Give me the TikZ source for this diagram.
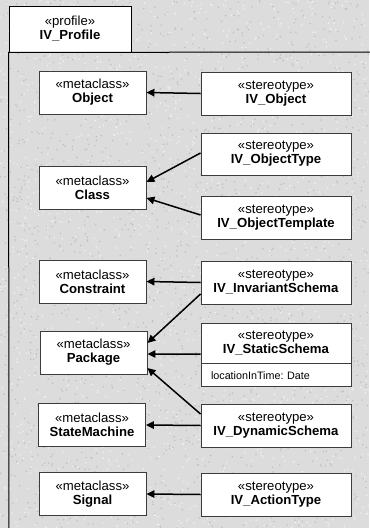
\documentclass[tikz,border=0pt]{standalone}
\usepackage{fontspec}
\setmainfont{Liberation Sans}
\frenchspacing
\usetikzlibrary{arrows.meta,calc}
\definecolor{granite}{HTML}{DCDCDC}
\definecolor{speckdark}{HTML}{BDBDBD}
\definecolor{specklight}{HTML}{F0F0F0}
\definecolor{boxline}{HTML}{3C3C3C}
\tikzset{
  meta/.style={draw=boxline, fill=white, line width=0.9bp, minimum width=107bp,
    minimum height=43bp, inner sep=0pt, align=center,
    font=\fontsize{13.2}{14}\selectfont},
  stereo/.style={meta, minimum width=150bp},
  attr/.style={draw=boxline, fill=white, line width=0.9bp, minimum height=23bp,
    inner xsep=10bp, inner ysep=0pt, text width=130bp, align=left,
    font=\fontsize{10.8}{12}\selectfont},
  ext/.style={draw=black, line width=1.5bp, -{Triangle[length=8bp,width=7.5bp]}},
  frameline/.style={draw=black, line width=1bp},
}
\begin{document}
\begin{tikzpicture}[x=1bp, y=-1bp]
  \useasboundingbox (0,0) rectangle (369,528);
  % granite backdrop
  \fill[granite] (0,0) rectangle (369,528);
  \pgfmathsetseed{4242}
  \foreach \i in {1,...,1800}{
    \pgfmathsetmacro\px{rnd*369}
    \pgfmathsetmacro\py{rnd*528}
    \fill[speckdark] (\px,\py) circle[radius=0.8bp];
  }
  \foreach \i in {1,...,1800}{
    \pgfmathsetmacro\px{rnd*369}
    \pgfmathsetmacro\py{rnd*528}
    \fill[specklight] (\px,\py) circle[radius=0.9bp];
  }

  % profile package frame
  \node[meta, minimum width=122bp, minimum height=46bp, draw=black] (tab) at (70,29)
    {«profile»\\\textbf{IV\_Profile}};
  \coordinate (frameright) at (375,52);
  \coordinate (framebottom) at (9,535);
  \draw[frameline] (frameright) -- (tab.south west) -- (framebottom);

  % metaclasses
  \node[meta] (object)   at (92.5,92.5)  {«metaclass»\\\textbf{Object}};
  \node[meta] (class)    at (92.5,187.5) {«metaclass»\\\textbf{Class}};
  \node[meta] (constr)   at (92.5,281.5) {«metaclass»\\\textbf{Constraint}};
  \node[meta] (package)  at (93.5,352.5) {«metaclass»\\\textbf{Package}};
  \node[meta] (statem)   at (92,425)     {«metaclass»\\\textbf{StateMachine}};
  \node[meta] (signal)   at (92.5,494)   {«metaclass»\\\textbf{Signal}};

  % stereotypes
  \node[stereo] (ivobj)   at (276,93.5)  {«stereotype»\\\textbf{IV\_Object}};
  \node[stereo, minimum height=42bp] (ivotype) at (276,154)
    {«stereotype»\\\textbf{IV\_ObjectType}};
  \node[stereo] (ivotmpl) at (276,217.5) {«stereotype»\\\textbf{IV\_ObjectTemplate}};
  \node[stereo] (ivinv)   at (276,282.5) {«stereotype»\\\textbf{IV\_InvariantSchema}};
  \node[stereo, minimum height=40bp] (ivstat) at (276,343)
    {«stereotype»\\\textbf{IV\_StaticSchema}};
  \node[attr, anchor=north] (ivstatattr) at (ivstat.south) {locationInTime: Date};
  \node[stereo] (ivdyn)   at (276,425.5) {«stereotype»\\\textbf{IV\_DynamicSchema}};
  \node[stereo] (ivact)   at (276,494.5) {«stereotype»\\\textbf{IV\_ActionType}};

  % extensions
  \draw[ext] (ivobj.west) -- (object.east);
  \draw[ext] ($(ivotype.west)+(0,-1)$) -- ($(class.east)+(0,-5.5)$);
  \draw[ext] ($(ivotmpl.west)+(0,-2.5)$) -- ($(class.east)+(0,10.5)$);
  \draw[ext] (ivinv.west) -- (constr.east);
  \draw[ext] ($(ivinv.west)+(0,11.5)$) -- ($(package.east)+(0,-9.5)$);
  \draw[ext] ($(ivstat.west)+(0,11)$) -- ($(package.east)+(0,1.5)$);
  \draw[ext] ($(ivdyn.west)+(0,-11.5)$) -- ($(package.east)+(0,15.5)$);
  \draw[ext] (ivdyn.west) -- (statem.east);
  \draw[ext] (ivact.west) -- (signal.east);
\end{tikzpicture}
\end{document}
